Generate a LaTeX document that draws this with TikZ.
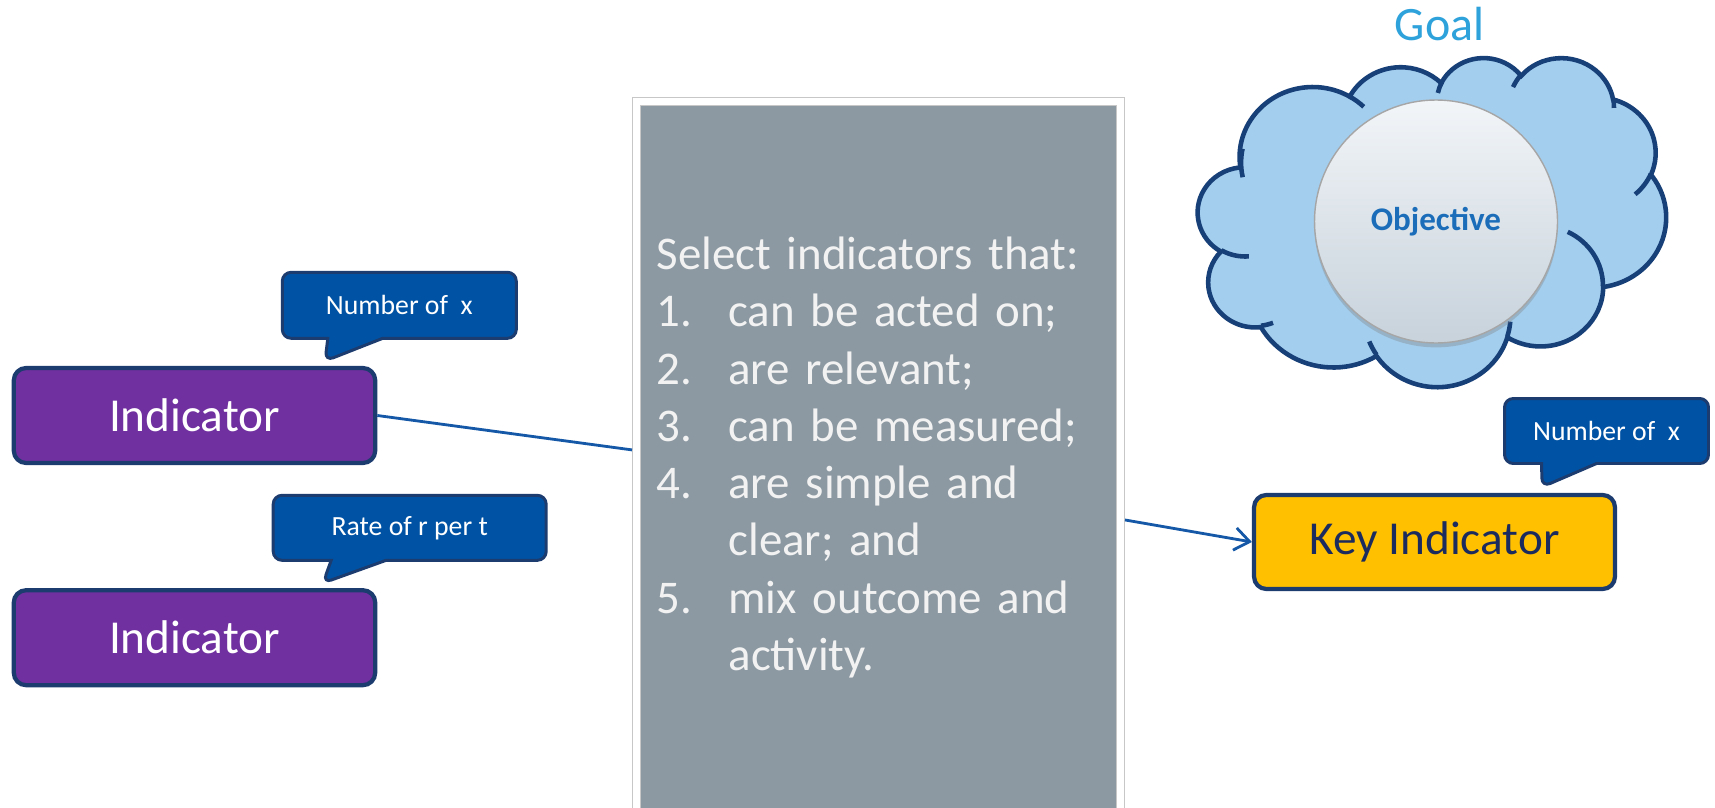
\documentclass[tikz,border=0pt]{standalone}
\usepackage{fontspec}
\setmainfont{Carlito}
\usetikzlibrary{shapes.callouts,shadows,arrows.meta}

\definecolor{indpurple}{HTML}{7030A0}
\definecolor{navyline}{HTML}{1C3B6E}
\definecolor{calloutblue}{HTML}{0053A4}
\definecolor{critgrey}{HTML}{8C99A2}
\definecolor{keyyellow}{HTML}{FFC000}
\definecolor{keytext}{HTML}{1C2B5E}
\definecolor{linkblue}{HTML}{1558A8}
\definecolor{cloudfill}{HTML}{A3CEEE}
\definecolor{cloudborder}{HTML}{173F78}
\definecolor{goalblue}{HTML}{2EA2DB}
\definecolor{objtext}{HTML}{1B6DB9}
\definecolor{objtop}{HTML}{F2F5F8}
\definecolor{objbot}{HTML}{C7D2DB}

% one puff of the cloud: x radius, y radius, start, sweep (angles as seen from the centre)
\newcommand\puff[4]{arc[x radius=#1,y radius=#2,
  start angle={atan2(#1*sin(#3),#2*cos(#3))},
  delta angle={mod(atan2(#1*sin(#3+#4),#2*cos(#3+#4))-atan2(#1*sin(#3),#2*cos(#3))+720,360)}]}

\begin{document}
\begin{tikzpicture}[x=0.02cm,y=-0.02cm,
	indbox/.style={draw=navyline,line width=2.4pt,rounded corners=7pt,fill=indpurple,text=white,
		minimum width=7.23cm,minimum height=1.9cm,font=\fontsize{26.9pt}{32pt}\selectfont},
	keybox/.style={indbox,fill=keyyellow,text=keytext,minimum width=7.22cm,minimum height=1.88cm},
	tip/.style={rectangle callout,draw=navyline,line width=1.7pt,rounded corners=5pt,fill=calloutblue,
		text=white,minimum height=1.3cm,callout pointer width=1.1cm,font=\fontsize{15.8pt}{19pt}\selectfont},
	crit/.style={draw=black!22,double=white,double distance=4pt,line width=0.6pt,fill=critgrey,
		text=white!95!black,minimum width=9.68cm,minimum height=14.28cm,inner sep=0pt,outer sep=2.6pt,
		text width=8.88cm,align=left,font=\fontsize{26.7pt}{32.6pt}\selectfont},
	link/.style={draw=linkblue,line width=1.6pt},
	cloudline/.style={draw=cloudborder,line width=2.6pt}]

	\useasboundingbox (0,0) rectangle (1715,808);

	% the goal cloud
	\begin{scope}[shift={(1198,57)},xscale=1.0833,yscale=0.7616]
		\draw[cloudline,fill=cloudfill] (39.00,143.70)
			\puff{67.53}{91.90}{-190.4875}{123.7805}
			\puff{53.33}{72.67}{-144.1024}{89.9452}
			\puff{43.65}{59.45}{-145.8079}{99.7230}
			\puff{48.57}{65.95}{-130.9861}{117.2417}
			\puff{53.33}{72.73}{-78.7089}{109.0269}
			\puff{67.75}{92.20}{-46.2673}{130.2690}
			\puff{57.85}{78.67}{0.6250}{114.0333}
			\puff{67.52}{92.15}{22.4516}{115.1726}
			\puff{77.20}{105.43}{66.2426}{75.7110}
			\puff{43.60}{59.18}{-274.9421}{146.7356}
			\puff{43.45}{59.45}{-246.8285}{152.5189} -- cycle;
		\draw[cloudline]
			(46.93,261.77) \puff{43.45}{59.45}{86.7420}{26.4295}
			(69.28,348.99) \puff{43.60}{59.18}{73.6105}{11.4475}
			(164.78,390.90) \puff{67.52}{92.15}{137.6242}{14.0811}
			(288.27,347.51) \puff{67.52}{92.15}{6.4533}{15.9984}
			(341.29,229.54) \puff{57.85}{78.67}{-70.2924}{70.9174}
			(417.98,153.54) \puff{53.33}{72.73}{30.3180}{27.7515}
			(383.24,54.26) \puff{48.57}{65.95}{-13.7443}{14.8589}
			(290.78,39.52) \puff{48.57}{65.95}{-149.1815}{18.1954}
			(221.41,47.20) \puff{43.65}{59.45}{-163.4943}{17.6864}
			(140.00,51.92) \puff{67.53}{91.90}{-66.7070}{12.3194}
			(41.27,157.89) \puff{67.53}{91.90}{163.7825}{31.5667};
	\end{scope}

	\node[circle,minimum size=4.86cm,top color=objtop,bottom color=objbot,draw=black!35,line width=0.8pt,
		drop shadow={opacity=.35,shadow xshift=0pt,shadow yshift=-2.5pt},text=objtext,
		font=\bfseries\fontsize{18.8pt}{22pt}\selectfont] (obj) at (1436,221.5) {Objective};
	\node[text=goalblue,font=\fontsize{27.3pt}{33pt}\selectfont] (goal) at (1439.5,24) {Goal};

	% selection criteria
	\node[crit] (crit) at (878.5,458.5) {%
		\begin{tabular}{@{}p{1.44cm}@{}l@{}}
			\multicolumn{2}{@{}l@{}}{Select indicators that:}\\
			1. & can be acted on;\\
			2. & are relevant;\\
			3. & can be measured;\\
			4. & are simple and\\
			   & clear; and\\
			5. & mix outcome and\\
			   & activity.
		\end{tabular}};

	\node[indbox] (ind1) at (194.5,415.5) {Indicator};
	\node[indbox] (ind2) at (194.5,637.7) {Indicator};
	\node[keybox] (key) at (1434.5,542) {Key Indicator};

	\draw[link] (ind1.east) -- (crit.178);
	\draw[link,-{Straight Barb[length=0.3cm,width=0.45cm]}] (crit.-14.7) -- (key.west);

	\node[tip,minimum width=4.68cm,minimum height=1.32cm,callout absolute pointer={(325,361)}] (tip1) at (399.3,305.3) {Number of~ x};
	\node[tip,minimum width=5.46cm,callout absolute pointer={(323,583)}] (tip2) at (409.7,527.8) {Rate of r per t};
	\node[tip,minimum width=4.08cm,callout absolute pointer={(1542,487)}] (tip3) at (1606.5,431) {Number of~ x};

\end{tikzpicture}
\end{document}
